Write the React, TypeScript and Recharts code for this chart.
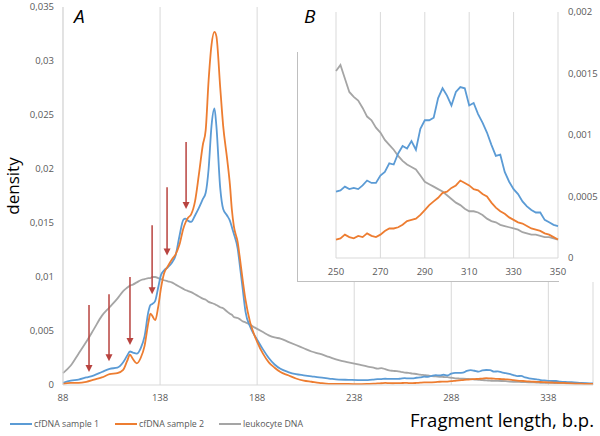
import { LineChart, Line, XAxis, YAxis, CartesianGrid, ReferenceLine } from "recharts";

// fragment lengths, main panel (88-248 bp)
const lensA = [
  88, 92, 96, 100, 104, 108, 112, 116, 119, 121, 122.5, 124, 126, 128, 130, 132, 133, 134, 135.5, 137,
  138.5, 140, 142, 144, 146, 148, 150, 151, 152.5, 154, 156, 158, 160, 161.5, 163, 164.5, 166, 167, 169, 170.5,
  172.5, 174, 175, 176, 178, 179, 180.5, 182, 184.4, 186, 188, 191, 194, 197, 200, 204, 208, 212, 216, 220,
  225, 230, 235, 240, 245, 248,
];
const sample1A = [
  0.0002, 0.0004, 0.0005, 0.0007, 0.0009, 0.0012, 0.0015, 0.0016, 0.0021, 0.0027, 0.0031, 0.003, 0.0029, 0.0034, 0.0045, 0.0068, 0.0074, 0.0075, 0.0078, 0.009,
  0.0102, 0.0106, 0.0109, 0.0113, 0.012, 0.0138, 0.0153, 0.0154, 0.0152, 0.0151, 0.0157, 0.0164, 0.0172, 0.0178, 0.02, 0.024, 0.0256, 0.024, 0.0182, 0.0163,
  0.0157, 0.0152, 0.0146, 0.014, 0.0126, 0.0112, 0.009, 0.0068, 0.0054, 0.0048, 0.0042, 0.0033, 0.0025, 0.0019, 0.0015, 0.0012, 0.001, 0.0009, 0.0008, 0.0007,
  0.0006, 0.0005, 0.00048, 0.00046, 0.00046, 0.0005,
];
const sample2A = [
  0.0001, 0.0002, 0.0002, 0.0003, 0.0005, 0.0007, 0.001, 0.0011, 0.0014, 0.0022, 0.0028, 0.0024, 0.002, 0.0025, 0.0036, 0.0058, 0.0066, 0.0064, 0.006, 0.0072,
  0.009, 0.0103, 0.011, 0.0116, 0.0121, 0.013, 0.0145, 0.015, 0.0155, 0.0158, 0.017, 0.0195, 0.0222, 0.0236, 0.0282, 0.0315, 0.0327, 0.0323, 0.0275, 0.024,
  0.021, 0.0185, 0.0162, 0.0147, 0.0132, 0.0119, 0.0098, 0.0079, 0.0058, 0.0049, 0.004, 0.0029, 0.0021, 0.0016, 0.0012, 0.0009, 0.0006, 0.0004, 0.0003, 0.0002,
  0.0001, 0.0001, 0.0001, 0.00008, 0.0001, 0.00012,
];
const leukoA = [
  0.0011, 0.0018, 0.0029, 0.004, 0.0052, 0.0064, 0.0072, 0.008, 0.0087, 0.009, 0.0092, 0.0093, 0.0095, 0.0097, 0.0098, 0.0099, 0.0099, 0.01, 0.01, 0.0099,
  0.0098, 0.0097, 0.0096, 0.0095, 0.0093, 0.0091, 0.0089, 0.0088, 0.0087, 0.0086, 0.0084, 0.0082, 0.008, 0.0079, 0.0077, 0.0076, 0.0075, 0.0074, 0.0072, 0.0071,
  0.0068, 0.0066, 0.0065, 0.0063, 0.0062, 0.0061, 0.0059, 0.0058, 0.0056, 0.0054, 0.0052, 0.0049, 0.0046, 0.0044, 0.0043, 0.004, 0.0037, 0.0034, 0.0031, 0.0029,
  0.0026, 0.0023, 0.0021, 0.0019, 0.0017, 0.0016,
];

// fragment lengths, inset panel B (250-350 bp)
const lensB = [
  250, 252, 254, 256, 258, 260, 262, 264, 266, 268, 270, 272, 274, 276, 278, 280, 282, 284, 286, 288,
  290, 292, 294, 296, 298, 300, 302, 304, 306, 308, 310, 312, 314, 316, 318, 320, 322, 324, 326, 328,
  330, 332, 334, 336, 338, 340, 342, 344, 346, 348, 350,
];
const sample1B = [
  0.00054, 0.00055, 0.00058, 0.00056, 0.00057, 0.00056, 0.00059, 0.00063, 0.00061, 0.00061, 0.00067, 0.0007, 0.00077, 0.00076, 0.00085, 0.00091, 0.00089, 0.00095, 0.00088, 0.00105,
  0.00112, 0.00112, 0.00114, 0.0013, 0.00138, 0.00132, 0.00124, 0.00135, 0.00139, 0.00138, 0.00124, 0.00126, 0.00117, 0.0011, 0.00102, 0.00092, 0.00083, 0.00084, 0.0007, 0.00062,
  0.00056, 0.00052, 0.00046, 0.00042, 0.00039, 0.00037, 0.00037, 0.00031, 0.00029, 0.00027, 0.00026,
];
const sample2B = [
  0.00015, 0.00016, 0.00019, 0.00017, 0.00016, 0.00018, 0.00017, 0.0002, 0.00018, 0.00017, 0.00019, 0.00022, 0.00024, 0.00024, 0.00025, 0.00027, 0.0003, 0.00031, 0.00032, 0.00035,
  0.00039, 0.00043, 0.00046, 0.00049, 0.00053, 0.00054, 0.00057, 0.00059, 0.00063, 0.00061, 0.00059, 0.00056, 0.00055, 0.00052, 0.0005, 0.00045, 0.00041, 0.00038, 0.00036, 0.00033,
  0.00031, 0.00029, 0.00028, 0.00026, 0.00024, 0.00023, 0.00022, 0.0002, 0.00019, 0.00017, 0.00015,
];
const leukoB = [
  0.00152, 0.00157, 0.00146, 0.00135, 0.00131, 0.00128, 0.00122, 0.00115, 0.00112, 0.00106, 0.00102, 0.00096, 0.00092, 0.00088, 0.00083, 0.00079, 0.00076, 0.00074, 0.00072, 0.00067,
  0.00062, 0.0006, 0.00058, 0.00056, 0.00054, 0.00051, 0.00048, 0.00045, 0.00043, 0.0004, 0.00038, 0.00038, 0.00037, 0.00035, 0.00032, 0.0003, 0.00029, 0.00027, 0.00026, 0.00025,
  0.00024, 0.00023, 0.00021, 0.0002, 0.00019, 0.00019, 0.00018, 0.00017, 0.00017, 0.00016, 0.00015,
];

// tail beyond the inset
const lensTail = [355, 361];
const sample1Tail = [0.0002, 0.00015];
const sample2Tail = [0.00012, 0.0001];
const leukoTail = [0.00013, 0.0001];

// arrows marking the ~10 bp periodicity: [length, top, tip]
const arrows = [
  [101.4, 0.0074, 0.0012],
  [111.7, 0.0084, 0.0022],
  [122.5, 0.01, 0.0037],
  [133.9, 0.0148, 0.0084],
  [141.6, 0.0183, 0.012],
  [151.4, 0.0225, 0.0163],
];

const mainTicksX = [88, 138, 188, 238, 288, 338];
const mainTicksY = [0, 0.005, 0.01, 0.015, 0.02, 0.025, 0.03, 0.035];
const insetTicksX = [250, 270, 290, 310, 330, 350];
const insetTicksY = [0, 0.0005, 0.001, 0.0015, 0.002];

const BLUE = "#5b9bd5";
const ORANGE = "#ed7d31";
const GRAY = "#a5a5a5";
const ARROW = "#b8433f";
const FONT = "'Open Sans', 'DejaVu Sans', sans-serif";

const mainData = [
  ...lensA.map((len, i) => ({ len, s1: sample1A[i], s2: sample2A[i], lk: leukoA[i] })),
  ...lensB.map((len, i) => ({ len, s1: sample1B[i], s2: sample2B[i], lk: leukoB[i] })),
  ...lensTail.map((len, i) => ({ len, s1: sample1Tail[i], s2: sample2Tail[i], lk: leukoTail[i] })),
];
const insetData = lensB.map((len, i) => ({ len, s1: sample1B[i], s2: sample2B[i], lk: leukoB[i] }));

const comma = (v: number) => String(v).replace(".", ",");
const tickStyle = { fill: "#595959", fontSize: 9.5, fontFamily: FONT };

function Arrow(props: any) {
  const { x1, y1, x2, y2 } = props;
  return (
    <g>
      <line x1={x1} y1={y1} x2={x2} y2={y2 - 5} stroke={ARROW} strokeWidth={1.5} />
      <polygon points={`${x2 - 3.5},${y2 - 7} ${x2 + 3.5},${y2 - 7} ${x2},${y2}`} fill={ARROW} />
    </g>
  );
}

export default function App() {
  return (
    <div style={{ position: "absolute", left: 0, top: 0, width: 600, height: 436, background: "#fff", fontFamily: FONT }}>
      <LineChart width={600} height={436} data={mainData} margin={{ top: 7, right: 7, left: 8, bottom: 31 }}>
        <CartesianGrid horizontal={false} stroke="#d9d9d9" />
        <XAxis
          dataKey="len"
          type="number"
          domain={[88, 361]}
          ticks={mainTicksX}
          tick={tickStyle}
          tickLine={false}
          tickMargin={3}
          axisLine={{ stroke: "#d9d9d9" }}
          height={20}
        />
        <YAxis
          domain={[0, 0.035]}
          ticks={mainTicksY}
          tickFormatter={comma}
          tick={tickStyle}
          tickLine={false}
          tickMargin={3}
          axisLine={{ stroke: "#d9d9d9" }}
          width={55}
        />
        <Line dataKey="lk" type="monotone" stroke={GRAY} strokeWidth={1.8} dot={false} isAnimationActive={false} />
        <Line dataKey="s1" type="monotone" stroke={BLUE} strokeWidth={1.8} dot={false} isAnimationActive={false} />
        <Line dataKey="s2" type="monotone" stroke={ORANGE} strokeWidth={1.8} dot={false} isAnimationActive={false} />
        {arrows.map(([x, top, tip], i) => (
          <ReferenceLine
            key={i}
            segment={[{ x, y: top }, { x, y: tip }]}
            shape={Arrow}
          />
        ))}
      </LineChart>

      <div style={{ position: "absolute", left: 297, top: 0, width: 303, height: 282, background: "#fff" }}>
        <LineChart width={303} height={282} data={insetData} margin={{ top: 12, right: 0, left: 39, bottom: 4 }}>
          <CartesianGrid horizontal={false} stroke="#d9d9d9" />
          <XAxis
            dataKey="len"
            type="number"
            domain={[250, 350]}
            ticks={insetTicksX}
            tick={tickStyle}
            tickLine={false}
            tickMargin={4}
            axisLine={{ stroke: "#d9d9d9" }}
            height={20}
          />
          <YAxis
            orientation="right"
            domain={[0, 0.002]}
            ticks={insetTicksY}
            tickFormatter={comma}
            tick={{ ...tickStyle, textAnchor: "start" }}
            tickLine={false}
            tickMargin={4}
            axisLine={false}
            width={42}
          />
          <Line dataKey="lk" type="linear" stroke={GRAY} strokeWidth={1.8} dot={false} isAnimationActive={false} />
          <Line dataKey="s1" type="linear" stroke={BLUE} strokeWidth={1.8} dot={false} isAnimationActive={false} />
          <Line dataKey="s2" type="linear" stroke={ORANGE} strokeWidth={1.8} dot={false} isAnimationActive={false} />
        </LineChart>
      </div>
      <div style={{ position: "absolute", left: 297, top: 52, width: 1, height: 229, background: "#bfbfbf" }} />
      <div style={{ position: "absolute", left: 297, top: 281, width: 262, height: 1, background: "#bfbfbf" }} />

      <div style={{ position: "absolute", left: 74, top: 3, fontSize: 19, fontStyle: "italic", color: "#000" }}>A</div>
      <div style={{ position: "absolute", left: 304, top: 3, fontSize: 19, fontStyle: "italic", color: "#000" }}>B</div>

      <div
        style={{
          position: "absolute",
          left: 12,
          top: 186,
          transform: "translate(-50%, -50%) rotate(-90deg)",
          fontSize: 17,
          color: "#000",
          whiteSpace: "nowrap",
        }}
      >
        density
      </div>
      <div style={{ position: "absolute", left: 410, top: 407, fontSize: 18.5, color: "#000", whiteSpace: "nowrap" }}>
        Fragment length, b.p.
      </div>

      {[
        { label: "cfDNA sample 1", color: BLUE, left: 10 },
        { label: "cfDNA sample 2", color: ORANGE, left: 115 },
        { label: "leukocyte DNA", color: GRAY, left: 219 },
      ].map((item) => (
        <div
          key={item.label}
          style={{ position: "absolute", left: item.left, top: 418, display: "flex", alignItems: "center", fontSize: 8.8, color: "#595959", whiteSpace: "nowrap" }}
        >
          <span style={{ display: "inline-block", width: 22, height: 2, background: item.color, marginRight: 2 }} />
          {item.label}
        </div>
      ))}
    </div>
  );
}
